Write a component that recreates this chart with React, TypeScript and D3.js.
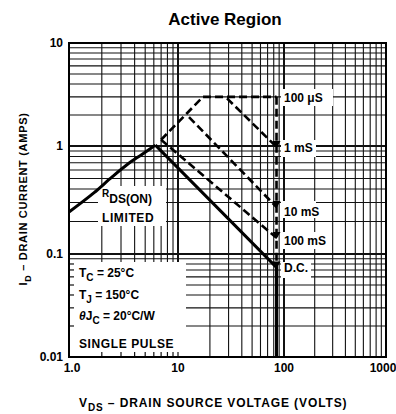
import * as d3 from 'd3';
import { useEffect, useRef } from 'react';

const vdsTicks = [1, 10, 100, 1000];
const vdsLabels = ['1.0', '10', '100', '1000'];
const idTicks = [10, 1, 0.1, 0.01];
const idLabels = ['10', '1', '0.1', '0.01'];

// R_DS(on) limit
const rdsV = [1.0, 1.7, 2.5, 3.4, 4.7, 6.2];
const rdsI = [0.245, 0.37, 0.52, 0.67, 0.84, 1.02];
// D.C. limit
const dcV = [6.2, 85, 85];
const dcI = [1.02, 0.074, 0.01];
// pulse limits (dashed)
const us100V = [7.0, 17.2, 85];
const us100I = [1.15, 3.0, 3.0];
const ms1V = [29, 85];
const ms1I = [2.9, 0.98];
const ms10V = [12.7, 85];
const ms10I = [1.91, 0.272];
const ms100V = [7.0, 85];
const ms100I = [1.15, 0.141];
const edgeV = [85, 85];
const edgeI = [3.0, 0.074];

const pulseLabels = ['100 \u03bcS', '1 mS', '10 mS', '100 mS', 'D.C.'];
const pulseEndI = [3.0, 0.98, 0.272, 0.141, 0.074];

const font = '"Liberation Sans", Arial, sans-serif';

export default function App() {
  const ref = useRef<SVGSVGElement>(null);

  useEffect(() => {
    const svg = d3.select(ref.current);
    svg.selectAll('*').remove();

    const x = d3.scaleLog().domain(vdsTicks).range([69, 178, 284, 386]);
    const y = d3.scaleLog().domain(idTicks).range([43, 146, 254, 357]);
    const [x0, x1] = [x(1), x(1000)];
    const [y0, y1] = [y(10), y(0.01)];

    const isMajor = (v: number) => Math.abs(Math.log10(v) - Math.round(Math.log10(v))) < 1e-6;

    const grid = svg.append('g').attr('stroke', '#111');
    grid
      .selectAll('.vx')
      .data(x.ticks())
      .enter()
      .append('line')
      .attr('x1', (d) => x(d))
      .attr('x2', (d) => x(d))
      .attr('y1', y0)
      .attr('y2', y1)
      .attr('stroke-width', (d) => (isMajor(d) ? 2 : 1.1));
    grid
      .selectAll('.hy')
      .data(y.ticks())
      .enter()
      .append('line')
      .attr('x1', x0)
      .attr('x2', x1)
      .attr('y1', (d) => y(d))
      .attr('y2', (d) => y(d))
      .attr('stroke-width', (d) => (isMajor(d) ? 2 : 1.1));

    // white boxes behind the text
    const boxes = [
      [70, 262, 186, 356],
      [98, 186, 166, 226],
      [281, 89, 333, 106],
      [281, 140, 316, 157],
      [281, 201, 316, 218],
      [281, 232, 331, 249],
      [281, 262, 311, 278],
    ];
    svg
      .append('g')
      .selectAll('rect')
      .data(boxes)
      .enter()
      .append('rect')
      .attr('x', (d) => d[0])
      .attr('y', (d) => d[1])
      .attr('width', (d) => d[2] - d[0])
      .attr('height', (d) => d[3] - d[1])
      .attr('fill', '#fff');

    // short ticks on the edges of the conditions box
    const edge = svg.append('g').attr('stroke', '#111').attr('stroke-width', 1.2);
    edge
      .selectAll('.lt')
      .data(y.ticks().filter((d) => y(d) > 262 && y(d) < 356))
      .enter()
      .append('line')
      .attr('x1', x0)
      .attr('x2', x0 + 5)
      .attr('y1', (d) => y(d))
      .attr('y2', (d) => y(d));
    edge
      .selectAll('.bt')
      .data(x.ticks().filter((d) => x(d) > 70 && x(d) < 186))
      .enter()
      .append('line')
      .attr('x1', (d) => x(d))
      .attr('x2', (d) => x(d))
      .attr('y1', y1 - 5)
      .attr('y2', y1);

    const line = (vs: number[], is: number[]) =>
      d3
        .line<number>()
        .x((v) => x(v))
        .y((_v, k) => y(is[k]))(vs);

    const curves = svg.append('g').attr('fill', 'none').attr('stroke', '#000');
    curves
      .append('path')
      .attr('d', d3.line<number>().x((v) => x(v)).y((_v, k) => y(rdsI[k])).curve(d3.curveMonotoneX)(rdsV))
      .attr('stroke-width', 3);
    curves.append('path').attr('d', line(dcV, dcI)).attr('stroke-width', 3);
    [
      [us100V, us100I],
      [ms1V, ms1I],
      [ms10V, ms10I],
      [ms100V, ms100I],
      [edgeV, edgeI],
    ].forEach(([vs, is]) => {
      curves
        .append('path')
        .attr('d', line(vs, is))
        .attr('stroke-width', 2.6)
        .attr('stroke-dasharray', '8,4');
    });

    // arrowheads at the end of the pulse curves
    svg
      .append('g')
      .selectAll('path')
      .data(pulseEndI.slice(1))
      .enter()
      .append('path')
      .attr('d', (d) => `M${x(85) - 4},${y(d) - 6}L${x(85) + 4},${y(d) - 6}L${x(85)},${y(d) + 1}Z`)
      .attr('fill', '#000');

    // border
    svg
      .append('rect')
      .attr('x', x0)
      .attr('y', y0)
      .attr('width', x1 - x0)
      .attr('height', y1 - y0)
      .attr('fill', 'none')
      .attr('stroke', '#000')
      .attr('stroke-width', 2);

    const txt = svg.append('g').attr('font-family', font).attr('font-weight', 'bold').attr('fill', '#000');

    txt
      .append('text')
      .attr('x', 225)
      .attr('y', 25)
      .attr('text-anchor', 'middle')
      .attr('font-size', 17)
      .text('Active Region');

    txt
      .selectAll('.yl')
      .data(idTicks)
      .enter()
      .append('text')
      .attr('x', 63)
      .attr('y', (d) => y(d) + 4)
      .attr('text-anchor', 'end')
      .attr('font-size', 12)
      .text((_d, k) => idLabels[k]);

    txt
      .selectAll('.xl')
      .data(vdsTicks)
      .enter()
      .append('text')
      .attr('x', (d, k) => x(d) + (k === 0 ? 3 : k === 3 ? -3 : 0))
      .attr('y', 372)
      .attr('text-anchor', 'middle')
      .attr('font-size', 12)
      .text((_d, k) => vdsLabels[k]);

    const pl = txt.append('g').attr('font-size', 12);
    pulseLabels.forEach((s, k) => {
      pl.append('text')
        .attr('x', 284)
        .attr('y', y(pulseEndI[k]) + (k === 2 ? 9 : k === 3 ? 7 : 5))
        .text(s);
    });

    const rds = txt.append('text').attr('x', 102).attr('y', 197).attr('font-size', 10);
    rds.append('tspan').text('R');
    rds.append('tspan').attr('dy', 6).attr('font-size', 12).text('DS(ON)');
    txt.append('text').attr('x', 102).attr('y', 222).attr('font-size', 12).attr('letter-spacing', 0.6).text('LIMITED');

    const cond = txt.append('g').attr('font-size', 12);
    const tc = cond.append('text').attr('x', 79).attr('y', 277);
    tc.append('tspan').text('T');
    tc.append('tspan').attr('dy', 4).attr('font-size', 10).text('C');
    tc.append('tspan').attr('dy', -4).text(' = 25\u00b0C');
    const tj = cond.append('text').attr('x', 79).attr('y', 299);
    tj.append('tspan').text('T');
    tj.append('tspan').attr('dy', 4).attr('font-size', 10).text('J');
    tj.append('tspan').attr('dy', -4).text(' = 150\u00b0C');
    const th = cond.append('text').attr('x', 79).attr('y', 320);
    th.append('tspan').attr('font-style', 'italic').text('\u03b8');
    th.append('tspan').text('J');
    th.append('tspan').attr('dy', 4).attr('font-size', 10).text('C');
    th.append('tspan').attr('dy', -4).text(' = 20\u00b0C/W');
    cond.append('text').attr('x', 79).attr('y', 348).attr('letter-spacing', 0.6).text('SINGLE PULSE');

    const xt = txt.append('text').attr('x', 79).attr('y', 407).attr('font-size', 12).attr('letter-spacing', 0.9);
    xt.append('tspan').text('V');
    xt.append('tspan').attr('dy', 4).attr('font-size', 10).text('DS');
    xt.append('tspan').attr('dy', -4).text(' \u2013 DRAIN SOURCE VOLTAGE (VOLTS)');

    const yt = txt
      .append('text')
      .attr('transform', 'translate(27,199) rotate(-90)')
      .attr('text-anchor', 'middle')
      .attr('font-size', 11)
      .attr('letter-spacing', 0.7);
    yt.append('tspan').text('I');
    yt.append('tspan').attr('dy', 4).attr('font-size', 9).text('D');
    yt.append('tspan').attr('dy', -4).text(' \u2013 DRAIN CURRENT (AMPS)');
  }, []);

  return (
    <svg
      ref={ref}
      width={396}
      height={414}
      style={{ position: 'absolute', left: 0, top: 0, background: '#fff' }}
    />
  );
}
